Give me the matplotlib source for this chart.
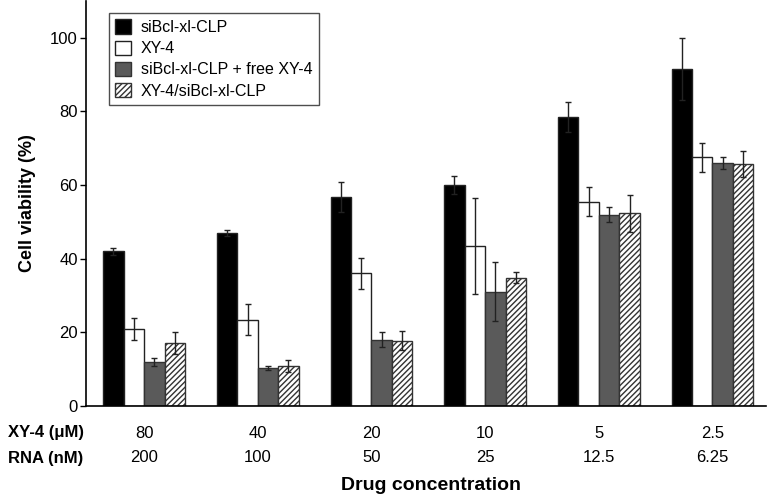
import matplotlib
matplotlib.use("Agg")
import matplotlib.pyplot as plt
import numpy as np

plt.rcParams['font.family'] = ['Liberation Sans', 'DejaVu Sans']
plt.rcParams['hatch.linewidth'] = 1.0

series_names = ["siBcl-xl-CLP", "XY-4", "siBcl-xl-CLP + free XY-4", "XY-4/siBcl-xl-CLP"]
xy4_labels = ["80", "40", "20", "10", "5", "2.5"]
rna_labels = ["200", "100", "50", "25", "12.5", "6.25"]

sibcl = [42.0, 47.0, 56.8, 60.0, 78.5, 91.5]
xy4 = [21.0, 23.5, 36.0, 43.5, 55.5, 67.5]
combo_free = [12.0, 10.3, 18.0, 31.0, 52.0, 66.0]
xy4_sibcl = [17.0, 10.8, 17.8, 34.8, 52.3, 65.8]

sibcl_err = [1.0, 0.8, 4.0, 2.5, 4.2, 8.5]
xy4_err = [3.0, 4.2, 4.2, 13.0, 4.0, 4.0]
combo_free_err = [1.0, 0.5, 2.0, 8.0, 2.0, 1.5]
xy4_sibcl_err = [3.0, 1.6, 2.5, 1.5, 5.0, 3.5]

values = [sibcl, xy4, combo_free, xy4_sibcl]
errors = [sibcl_err, xy4_err, combo_free_err, xy4_sibcl_err]
facecolors = ["#000000", "#ffffff", "#5a5a5a", "#ffffff"]
edgecolors = ["#222222", "#222222", "#333333", "#333333"]
hatches = [None, None, None, "//////"]

fig = plt.figure(figsize=(7.69, 4.97), dpi=100)
ax = fig.add_axes([0.112, 0.183, 0.884, 0.815])

x = np.arange(len(xy4_labels))
w = 0.18
for k in range(4):
    pos = x + (k - 1.5) * w
    ax.bar(pos, values[k], width=w, color=facecolors[k], edgecolor=edgecolors[k],
           hatch=hatches[k], linewidth=1.0, label=series_names[k], zorder=2)
    ax.errorbar(pos, values[k], yerr=errors[k], fmt='none', ecolor='#222222',
                elinewidth=1.0, capsize=2.5, capthick=1.0, zorder=3)

ax.set_xlim(-0.51, 5.47)
ax.set_ylim(0, 110)
ax.set_yticks([0, 20, 40, 60, 80, 100])
ax.tick_params(axis='y', direction='out', length=4, width=1, labelsize=12, pad=2)
ax.set_xticks([])
for s in ['top', 'right']:
    ax.spines[s].set_visible(False)
ax.spines['left'].set_linewidth(1.2)
ax.spines['bottom'].set_linewidth(1.2)

ax.set_ylabel("Cell viability (%)", fontsize=13, fontweight='bold', labelpad=10)

leg = ax.legend(loc='upper left', bbox_to_anchor=(0.022, 0.99), fontsize=11.5,
                frameon=True, fancybox=False, edgecolor='#222222',
                handlelength=1.0, handleheight=1.0, handletextpad=0.6,
                borderpad=0.4, labelspacing=0.35)
leg.get_frame().set_linewidth(1.0)

row1_y = 1 - 433 / 497
row2_y = 1 - 458 / 497
trans = matplotlib.transforms.blended_transform_factory(ax.transData, fig.transFigure)
for i in range(len(xy4_labels)):
    ax.text(x[i], row1_y, xy4_labels[i], transform=trans, ha='center', va='center', fontsize=12)
    ax.text(x[i], row2_y, rna_labels[i], transform=trans, ha='center', va='center', fontsize=12)

fig.text(0.010, row1_y, "XY-4 (\u03bcM)", ha='left', va='center', fontsize=12, fontweight='bold')
fig.text(0.010, row2_y, "RNA (nM)", ha='left', va='center', fontsize=12, fontweight='bold')
fig.text(0.56, 1 - 486 / 497, "Drug concentration", ha='center', va='center', fontsize=14, fontweight='bold')

fig.savefig("out.png", dpi=100)
